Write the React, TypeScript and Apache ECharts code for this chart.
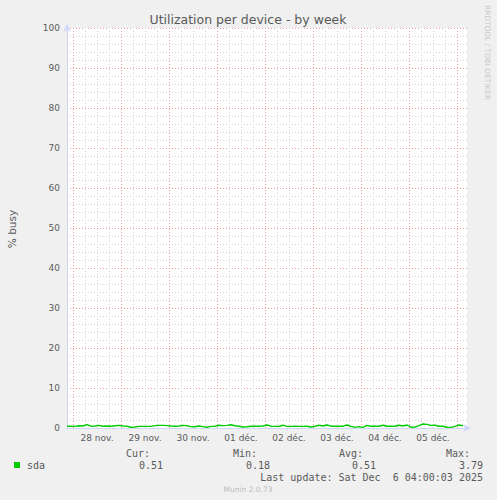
import React, { useEffect, useRef } from "react";
import * as echarts from "echarts";

const TITLE = "Utilization per device - by week";
const Y_NAME = "% busy";
// x axis: hours since Nov 27 21:00; day boundaries at 3 + 24k, day labels at noon (15 + 24k)
const DAY_LABELS = ["28 nov.", "29 nov.", "30 nov.", "01 déc.", "02 déc.", "03 déc.", "04 déc.", "05 déc."];
const SPAN_HOURS = 200;
const FIRST_MIDNIGHT = 3;
const HOUR_STEP = 2;
const SDA_VALUES = [
  0.45, 0.45, 0.4, 0.55, 0.5, 0.85, 0.45, 0.5, 0.65, 0.45, 0.5, 0.45, 0.55, 0.65, 0.5, 0.45, 0.2,
  0.25, 0.4, 0.4, 0.4, 0.4, 0.6, 0.65, 0.65, 0.6, 0.5, 0.45, 0.5, 0.65, 0.55, 0.35, 0.3, 0.5,
  0.35, 0.2, 0.4, 0.45, 0.7, 0.6, 0.65, 0.8, 0.55, 0.45, 0.25, 0.3, 0.45, 0.45, 0.45, 0.5, 0.75,
  0.45, 0.4, 0.45, 0.7, 0.4, 0.4, 0.45, 0.4, 0.4, 0.45, 0.25, 0.45, 0.7, 0.5, 0.75, 0.45, 0.45,
  0.45, 0.45, 0.75, 0.4, 0.15, 0.35, 0.15, 0.65, 0.45, 0.45, 0.45, 0.7, 0.45, 0.45, 0.45, 0.7,
  0.5, 0.75, 0.2, 0.25, 0.6, 1.0, 0.9, 0.65, 0.7, 0.45, 0.45, 0.2, 0.15, 0.4, 0.75, 0.55,
];
const LEGEND_HEADERS = ["Cur:", "Min:", "Avg:", "Max:"];
const SERIES_NAME = "sda";
const SDA_STATS = ["0.51", "0.18", "0.51", "3.79"];
const LAST_UPDATE = "Last update: Sat Dec\u00a0 6 04:00:03 2025";
const VERSION = "Munin 2.0.73";
const WATERMARK = "RRDTOOL / TOBI OETIKER";

const FONT_COLOR = "#5a5a5a";
const AXIS_COLOR = "#CFD6F8";
const MGRID = "#EC9C9C";
const GRID = "#D4D4D4";
const NONE = "rgba(255,255,255,0)";
const GREEN = "#00CC00";
const MONO = "DejaVu Sans Mono";
const SANS = "DejaVu Sans";

export default function App() {
  const ref = useRef<HTMLDivElement>(null);
  useEffect(() => {
    document.body.style.margin = "0";
    const chart = echarts.init(ref.current!, null, { renderer: "svg" });
    const data = SDA_VALUES.map((v, i) => [i * HOUR_STEP, v]);

    const headerRight = [150, 257, 363, 470];
    const statRight = [163, 270, 376, 483];
    const graphic: any[] = [
      {
        type: "text",
        x: 248,
        y: 19,
        style: { text: TITLE, fill: FONT_COLOR, font: `12.5px '${SANS}'`, align: "center", verticalAlign: "middle" },
      },
      {
        type: "text",
        x: 12,
        y: 229,
        rotation: Math.PI / 2,
        style: { text: Y_NAME, fill: FONT_COLOR, font: `10.5px '${SANS}'`, align: "center", verticalAlign: "middle" },
      },
      {
        type: "text",
        x: 487,
        y: 5,
        rotation: -Math.PI / 2,
        style: { text: WATERMARK, fill: "#C8C8C8", font: `7.4px '${SANS}'`, align: "left", verticalAlign: "middle" },
      },
      { type: "rect", shape: { x: 14, y: 462, width: 6, height: 6 }, style: { fill: GREEN } },
      {
        type: "text",
        x: 27,
        y: 465,
        style: { text: SERIES_NAME, fill: FONT_COLOR, font: `10px '${MONO}'`, align: "left", verticalAlign: "middle" },
      },
      {
        type: "text",
        x: 483,
        y: 477,
        style: { text: LAST_UPDATE, fill: FONT_COLOR, font: `10px '${MONO}'`, align: "right", verticalAlign: "middle" },
      },
      {
        type: "text",
        x: 248,
        y: 489,
        style: { text: VERSION, fill: "#BDBDBD", font: `7.5px '${SANS}'`, align: "center", verticalAlign: "middle" },
      },
    ];
    LEGEND_HEADERS.forEach((h, i) => {
      graphic.push({
        type: "text",
        x: headerRight[i],
        y: 453,
        style: { text: h, fill: FONT_COLOR, font: `10px '${MONO}'`, align: "right", verticalAlign: "middle" },
      });
    });
    SDA_STATS.forEach((s, i) => {
      graphic.push({
        type: "text",
        x: statRight[i],
        y: 465,
        style: { text: s, fill: FONT_COLOR, font: `10px '${MONO}'`, align: "right", verticalAlign: "middle" },
      });
    });

    chart.setOption({
      animation: false,
      backgroundColor: "#F0F0F0",
      textStyle: { fontFamily: SANS },
      grid: {
        left: 67,
        right: 30,
        top: 28,
        bottom: 72,
        show: true,
        backgroundColor: "#FFFFFF",
        borderWidth: 0,
      },
      xAxis: {
        type: "value",
        min: 0,
        max: SPAN_HOURS,
        interval: 3,
        axisLine: {
          show: true,
          lineStyle: { color: AXIS_COLOR, width: 1 },
          symbol: ["none", "arrow"],
          symbolSize: [6, 8],
          symbolOffset: [0, 4],
        },
        axisTick: { show: false },
        axisLabel: {
          color: FONT_COLOR,
          fontSize: 9,
          fontFamily: SANS,
          margin: 5,
          formatter: (v: number) => {
            const k = (v - FIRST_MIDNIGHT - 12) / 24;
            return Number.isInteger(k) && k >= 0 && k < DAY_LABELS.length ? DAY_LABELS[k] : "";
          },
        },
        splitLine: {
          show: true,
          showMinLine: true,
          showMaxLine: false,
          lineStyle: {
            // ticks every 3 h from 21:00: midnight = major, 06/12/18 h = minor
            color: [NONE, MGRID, NONE, GRID, NONE, GRID, NONE, GRID],
            type: [1, 2],
            width: 1,
          },
        },
      },
      yAxis: {
        type: "value",
        min: 0,
        max: 100,
        interval: 2,
        axisLine: {
          show: true,
          lineStyle: { color: AXIS_COLOR, width: 1 },
          symbol: ["none", "arrow"],
          symbolSize: [6, 8],
          symbolOffset: [0, 4],
        },
        axisTick: { show: false },
        axisLabel: {
          color: FONT_COLOR,
          fontSize: 9,
          fontFamily: SANS,
          margin: 7,
          formatter: (v: number) => (v % 10 === 0 ? String(v) : ""),
        },
        splitLine: {
          show: true,
          showMinLine: false,
          lineStyle: {
            // first drawn line is v=2 (v=0 skipped), so the major colour falls on multiples of 10
            color: [GRID, GRID, GRID, GRID, MGRID],
            type: [1, 2],
            width: 1,
          },
        },
      },
      series: [
        {
          name: SERIES_NAME,
          type: "line",
          data,
          showSymbol: false,
          symbol: "none",
          lineStyle: { color: GREEN, width: 1.4 },
          z: 5,
        },
      ],
      graphic,
    });
    return () => chart.dispose();
  }, []);
  return <div ref={ref} style={{ width: 497, height: 500, position: "absolute", left: 0, top: 0 }} />;
}
